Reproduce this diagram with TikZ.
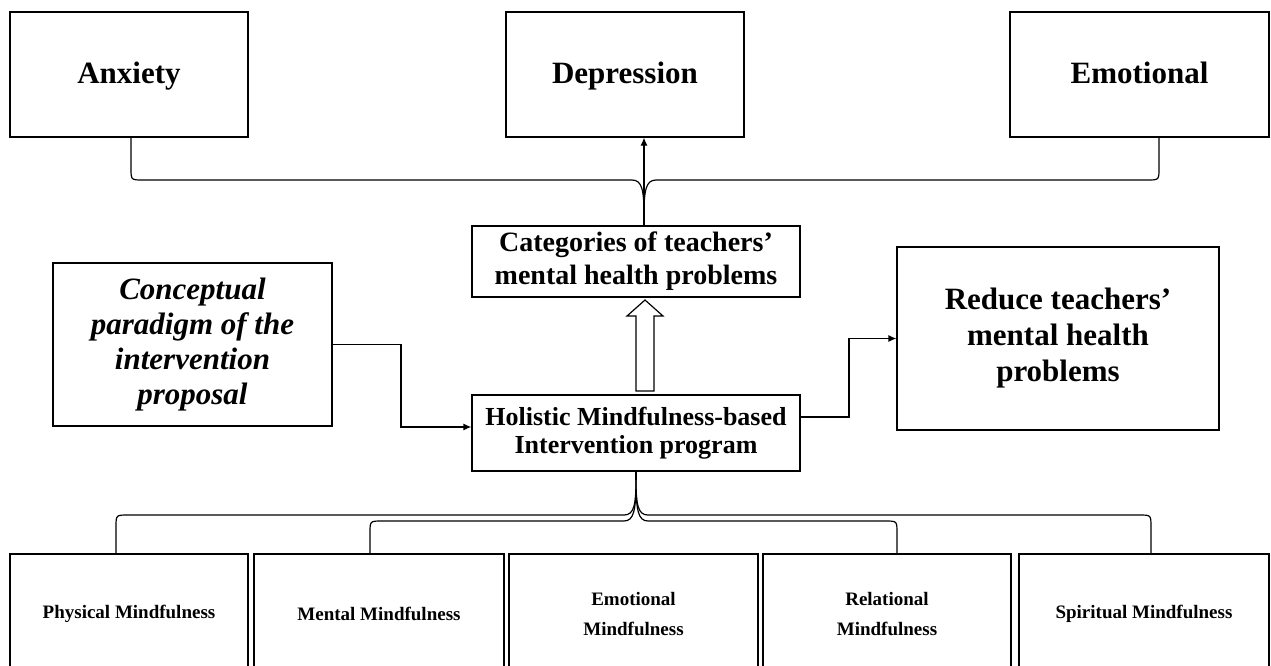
\documentclass[tikz,border=0pt]{standalone}
\usepackage{fontspec}
\setmainfont{Liberation Serif}
\usetikzlibrary{arrows.meta}
\tikzset{
  box/.style={draw, line width=0.6pt, align=center, inner sep=2pt},
  topbox/.style={box, minimum height=62.5pt, text height=1.1em, text depth=0.16em, font=\fontsize{15.5}{18}\selectfont\bfseries},
  dimbox/.style={box, minimum height=60pt, font=\fontsize{9.5}{15}\selectfont\bfseries},
  arr/.style={line width=0.6pt, -{Latex[length=4pt,width=3.5pt]}},
  brace/.style={line width=0.6pt},
}
\begin{document}
\begin{tikzpicture}[x=0.5pt, y=-0.5pt]
\useasboundingbox (0,0) rectangle (1271,665);

% problem categories
\node[topbox, minimum width=119pt] (anx) at (129,74.5) {Anxiety};
\node[topbox, minimum width=119pt] (dep) at (625,74.5) {Depression};
\node[topbox, minimum width=129.5pt] (emo) at (1139.5,74.5) {Emotional};

% middle row
\node[box, minimum width=164pt, minimum height=35.5pt, font=\fontsize{14}{16.5}\selectfont\bfseries] (cat) at (636,261.5) {Categories of teachers’\\ mental health problems};
\node[box, minimum width=164pt, minimum height=38pt, font=\fontsize{13}{14}\selectfont\bfseries] (hol) at (636,433) {Holistic Mindfulness-based\\ Intervention program};
\node[box, minimum width=139.5pt, minimum height=81.5pt, font=\fontsize{15.5}{17.5}\selectfont\bfseries\itshape] (con) at (192.5,344.5) {Conceptual\\ paradigm of the\\ intervention\\ proposal};
\node[box, minimum width=161pt, minimum height=91.5pt, font=\fontsize{15.5}{18}\selectfont\bfseries] (red) at (1058,338.5) {Reduce teachers’\\ mental health\\ problems};

% mindfulness dimensions
\node[dimbox, minimum width=119pt] (phy) at (129,614) {Physical Mindfulness};
\node[dimbox, minimum width=125pt] (men) at (379,614) {Mental Mindfulness};
\node[dimbox, minimum width=124.5pt] (emm) at (633.5,614) {Emotional\\ Mindfulness};
\node[dimbox, minimum width=124pt] (rel) at (887,614) {Relational\\ Mindfulness};
\node[dimbox, minimum width=125pt] (spi) at (1144,614) {Spiritual Mindfulness};

% connectors
\coordinate (tt) at (644,215);
\draw[arr] (cat.north -| tt) -- (dep.south -| tt);
\draw[brace] ([xshift=1pt]anx.south) -- (131,168) .. controls (131,180) .. (143,180) -- (632,180) .. controls (642,180) and (644,190) .. (tt)
  .. controls (644,190) and (646,180) .. (656,180) -- (1147,180) .. controls (1159,180) .. (1159,168) -- ([xshift=9.75pt]emo.south);

\draw[arr] (con.east) -| (401,385) |- ([yshift=3pt]hol.west);
\draw[arr] ([yshift=8pt]hol.east) -| (849,380) |- (red.west);

% hollow arrow
\draw[line width=0.6pt] (636,391) -- (636,316) -- (627,316) -- (645,300) -- (663,316) -- (654,316) -- (654,391) -- cycle;

% lower brace
\coordinate (bt) at ([yshift=-4pt]hol.south);
\draw[brace] (hol.south) -- (bt);
\draw[brace] ([xshift=-6.5pt]phy.north) -- (116,527) .. controls (116,515) .. (128,515) -- (624,515) .. controls (634,515) and (636,505) .. (bt)
  .. controls (636,505) and (638,515) .. (648,515) -- (1139,515) .. controls (1151,515) .. (1151,527) -- ([xshift=3.5pt]spi.north);
\draw[brace] ([xshift=-4.5pt]men.north) -- (370,533) .. controls (370,521) .. (382,521) -- (624,521) .. controls (634,521) and (636,510) .. (bt)
  .. controls (636,510) and (638,521) .. (648,521) -- (885,521) .. controls (897,521) .. (897,533) -- ([xshift=5pt]rel.north);
\end{tikzpicture}
\end{document}
